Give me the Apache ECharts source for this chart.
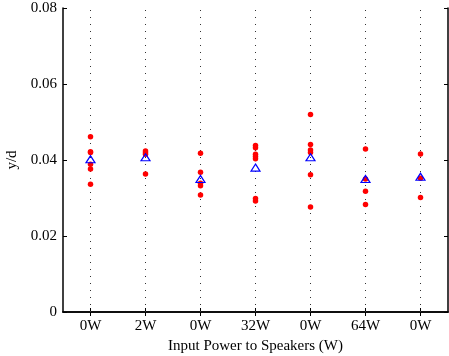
<!DOCTYPE html>
<html><head><meta charset="utf-8">
<script src="https://cdn.jsdelivr.net/npm/echarts@6/dist/echarts.min.js"></script>
<style>html,body{margin:0;padding:0;background:#fff}#c{width:449px;height:356px}</style>
</head><body><div id="c"></div>
<script>
var categories = ['0W','2W','0W','32W','0W','64W','0W'];
var trials = [
  [0.0461, 0.0422, 0.0420, 0.0389, 0.0376, 0.0336],
  [0.0424, 0.0419, 0.0415, 0.0363],
  [0.0418, 0.0368, 0.0339, 0.0332, 0.0308],
  [0.0438, 0.0432, 0.0415, 0.0409, 0.0403, 0.0299, 0.0292],
  [0.0520, 0.0441, 0.0426, 0.0420, 0.0361, 0.0276],
  [0.0429, 0.0350, 0.0318, 0.0283],
  [0.0416, 0.0352, 0.0301]
];
var means = [0.0402, 0.0407, 0.0350, 0.0380, 0.0407, 0.0350, 0.0356];
var yTicks = [0, 0.02, 0.04, 0.06, 0.08];

var font = '"Liberation Serif", "Times New Roman", serif';
var redData = [];
trials.forEach(function(arr, i){ arr.forEach(function(v){ redData.push([i, v]); }); });
var meanData = means.map(function(v, i){ return [i, v]; });

var chart = echarts.init(document.getElementById('c'), null, {renderer:'canvas'});
chart.setOption({
  animation: false,
  backgroundColor: '#fff',
  grid: {left: 63, right: 1, top: 8, bottom: 44, containLabel: false, outerBoundsMode: 'none'},
  xAxis: [{
    type: 'category', data: categories, position: 'bottom',
    axisLine: {show: true, lineStyle: {color: '#000', width: 1.5}},
    axisTick: {show: true, inside: true, length: 4, alignWithLabel: true, lineStyle: {color: '#000'}},
    axisLabel: {color: '#000', fontFamily: font, fontSize: 15, margin: 7},
    splitLine: {show: false},
    name: 'Input Power to Speakers (W)', nameLocation: 'middle', nameGap: 27,
    nameTextStyle: {color: '#000', fontFamily: font, fontSize: 15}
  }, {
    type: 'category', data: categories, position: 'top',
    axisLine: {show: true, lineStyle: {color: '#000', width: 1.5}},
    axisTick: {show: true, inside: true, length: 4, alignWithLabel: true, lineStyle: {color: '#000'}},
    axisLabel: {show: false}, splitLine: {show: false}
  }],
  yAxis: [{
    type: 'value', min: 0, max: 0.08, interval: 0.02, position: 'left',
    axisLine: {show: true, lineStyle: {color: '#000', width: 1.5}},
    axisTick: {show: true, inside: true, length: 4, lineStyle: {color: '#000'}},
    axisLabel: {color: '#000', fontFamily: font, fontSize: 15, margin: 6,
      formatter: function(v){ var t = yTicks.find(function(x){return Math.abs(x-v)<1e-9;}); return t === 0 ? '0' : (t !== undefined ? t.toFixed(2) : v.toFixed(2)); }},
    splitLine: {show: false},
    name: 'y/d', nameLocation: 'middle', nameGap: 43, nameRotate: 90,
    nameTextStyle: {color: '#000', fontFamily: font, fontSize: 15}
  }, {
    type: 'value', min: 0, max: 0.08, interval: 0.02, position: 'right',
    axisLine: {show: true, lineStyle: {color: '#000', width: 1.5}},
    axisTick: {show: true, inside: true, length: 4, lineStyle: {color: '#000'}},
    axisLabel: {show: false}, splitLine: {show: false}
  }],
  series: [{
    type: 'scatter', data: redData, symbol: 'circle', symbolSize: 5.5, z: 3,
    itemStyle: {color: '#ff0000', opacity: 1},
    markLine: {
      silent: true, symbol: ['none','none'], label: {show: false},
      lineStyle: {color: '#333', width: 1, type: [1, 6], opacity: 1},
      data: categories.map(function(c, i){ return {xAxis: i}; }),
      z: 1
    }
  }, {
    type: 'scatter', data: meanData, symbol: 'triangle', symbolSize: [9, 7], z: 4,
    itemStyle: {color: 'rgba(0,0,0,0)', borderColor: '#0000ff', borderWidth: 1.2, opacity: 1}
  }]
});
</script></body></html>
